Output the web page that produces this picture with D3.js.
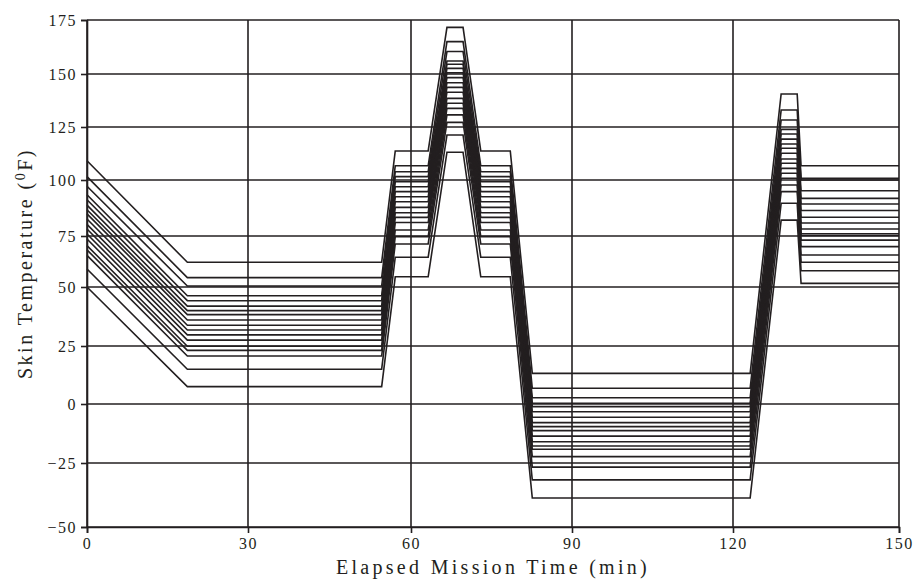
<!DOCTYPE html>
<html>
<head>
<meta charset="utf-8">
<script src="https://cdn.jsdelivr.net/npm/d3@7"></script>
<style>
  html, body { margin: 0; padding: 0; background: #fff; }
  svg { display: block; }
  text { font-family: "Liberation Serif", "Times New Roman", serif; fill: #231f20; }
</style>
</head>
<body>
<svg id="chart" width="917" height="582"></svg>
<script>
// ---------------- data ----------------
const xTicks = [0, 30, 60, 90, 120, 150];
const yTicks = [-50, -25, 0, 25, 50, 75, 100, 125, 150, 175];

// breakpoint times (min) of every curve
const breakTimes = [0, 18.7, 54.6, 57.1, 63.2, 66.7, 69.7, 73.0, 78.5, 82.6, 123.1, 128.7, 131.6, 132.3, 150];

// levels of each curve (18 curves) per phase
const startVals = [109.1, 101.6, 97.2, 93.4, 91.2, 88.8, 86.7, 84.9, 82.6, 80.2, 78.1, 75.9, 73.5, 70.3, 68.2, 65.5, 58.8, 50.0];
const plateau1  = [62.1, 54.6, 50.5, 46.3, 44.2, 41.9, 40.0, 38.3, 36.0, 33.8, 31.8, 29.7, 27.5, 24.9, 23.1, 20.7, 15.0, 7.5];
const plateau2  = [113.7, 106.7, 103.9, 101.6, 99.2, 97.0, 94.8, 92.5, 90.3, 87.8, 85.4, 83.3, 81.0, 77.7, 74.7, 71.1, 64.6, 55.0];
const peak1     = [171.6, 165.0, 160.4, 156.0, 154.5, 152.6, 150.6, 148.3, 145.9, 143.7, 141.4, 138.5, 136.2, 133.8, 130.7, 127.2, 121.2, 113.1];
const plateau3  = [113.7, 106.7, 103.9, 101.6, 99.2, 97.0, 94.8, 92.5, 90.3, 87.8, 85.4, 83.3, 81.0, 77.7, 74.7, 71.1, 64.6, 55.0];
const bottom    = [13.2, 6.8, 2.7, 0.3, -1.1, -3.3, -5.6, -7.9, -9.6, -11.3, -13.6, -16.0, -17.8, -19.2, -22.3, -26.6, -31.6, -38.7];
const peak2     = [140.6, 133.0, 128.3, 123.9, 121.7, 119.3, 117.0, 115.0, 112.6, 109.9, 107.9, 105.5, 103.2, 100.8, 97.8, 94.8, 89.6, 82.1];
const finalVals = [106.7, 100.8, 100.0, 95.2, 91.8, 89.3, 86.4, 83.4, 80.8, 78.1, 76.0, 75.2, 73.0, 69.8, 65.7, 62.1, 58.0, 51.8];

const xTitle = "Elapsed Mission Time (min)";
const yTitleMain = "Skin Temperature (";
const yTitleSup = "0";
const yTitleEnd = "F)";

// ---------------- drawing ----------------
const phaseArrays = [startVals, plateau1, plateau1, plateau2, plateau2, peak1, peak1,
                     plateau3, plateau3, bottom, bottom, peak2, peak2, finalVals, finalVals];

const curves = startVals.map((_, i) =>
  breakTimes.map((t, k) => ({ t: t, v: phaseArrays[k][i] })));

const svg = d3.select("#chart");
const ink = "#231f20";

const x = d3.scaleLinear().domain([0, 30, 60, 90, 120, 150]).range([87, 248, 411, 572, 733, 899]);
const y = d3.scaleLinear().domain([-50, -25, 0, 25, 50, 75, 100, 125, 150, 175])
                          .range([527, 463, 404, 346, 287, 236, 180, 127, 74, 20]);

// grid
svg.append("g").selectAll("line").data(yTicks).join("line")
  .attr("x1", x(0)).attr("x2", x(150))
  .attr("y1", d => y(d)).attr("y2", d => y(d))
  .attr("stroke", ink).attr("stroke-width", 1.6);
svg.append("g").selectAll("line").data(xTicks).join("line")
  .attr("x1", d => x(d)).attr("x2", d => x(d))
  .attr("y1", y(-50)).attr("y2", y(175))
  .attr("stroke", ink).attr("stroke-width", 1.6);

// axes (ticks + labels)
const yAxis = svg.append("g").attr("transform", `translate(${x(0)},0)`)
  .call(d3.axisLeft(y).tickValues(yTicks).tickSize(6).tickPadding(4).tickFormat(d3.format("d")));
const xAxis = svg.append("g").attr("transform", `translate(0,${y(-50)})`)
  .call(d3.axisBottom(x).tickValues(xTicks).tickSize(6).tickPadding(5).tickFormat(d3.format("d")));
[yAxis, xAxis].forEach(g => {
  g.select(".domain").attr("stroke", ink).attr("stroke-width", 1.6);
  g.selectAll(".tick line").attr("stroke", ink).attr("stroke-width", 1.6);
  g.selectAll(".tick text")
    .attr("font-family", "'Liberation Serif', 'Times New Roman', serif")
    .attr("font-size", 16).attr("fill", ink).style("letter-spacing", "1.5px");
});

// curves
const line = d3.line().x(d => x(d.t)).y(d => y(d.v));
svg.append("g").selectAll("path").data(curves).join("path")
  .attr("d", line)
  .attr("fill", "none")
  .attr("stroke", ink)
  .attr("stroke-width", 1.6)
  .attr("stroke-linejoin", "miter");

// titles
svg.append("text")
  .attr("x", (x(0) + x(150)) / 2).attr("y", 574)
  .attr("text-anchor", "middle")
  .attr("font-size", 20)
  .style("letter-spacing", "3.3px")
  .text(xTitle);

const yt = svg.append("text")
  .attr("transform", `translate(32,${(y(-50) + y(175)) / 2 - 10}) rotate(-90)`)
  .attr("text-anchor", "middle")
  .attr("font-size", 20)
  .style("letter-spacing", "2.5px");
yt.append("tspan").text(yTitleMain);
yt.append("tspan").attr("font-size", 14).attr("dy", -7).text(yTitleSup);
yt.append("tspan").attr("dy", 7).text(yTitleEnd);
</script>
</body>
</html>
